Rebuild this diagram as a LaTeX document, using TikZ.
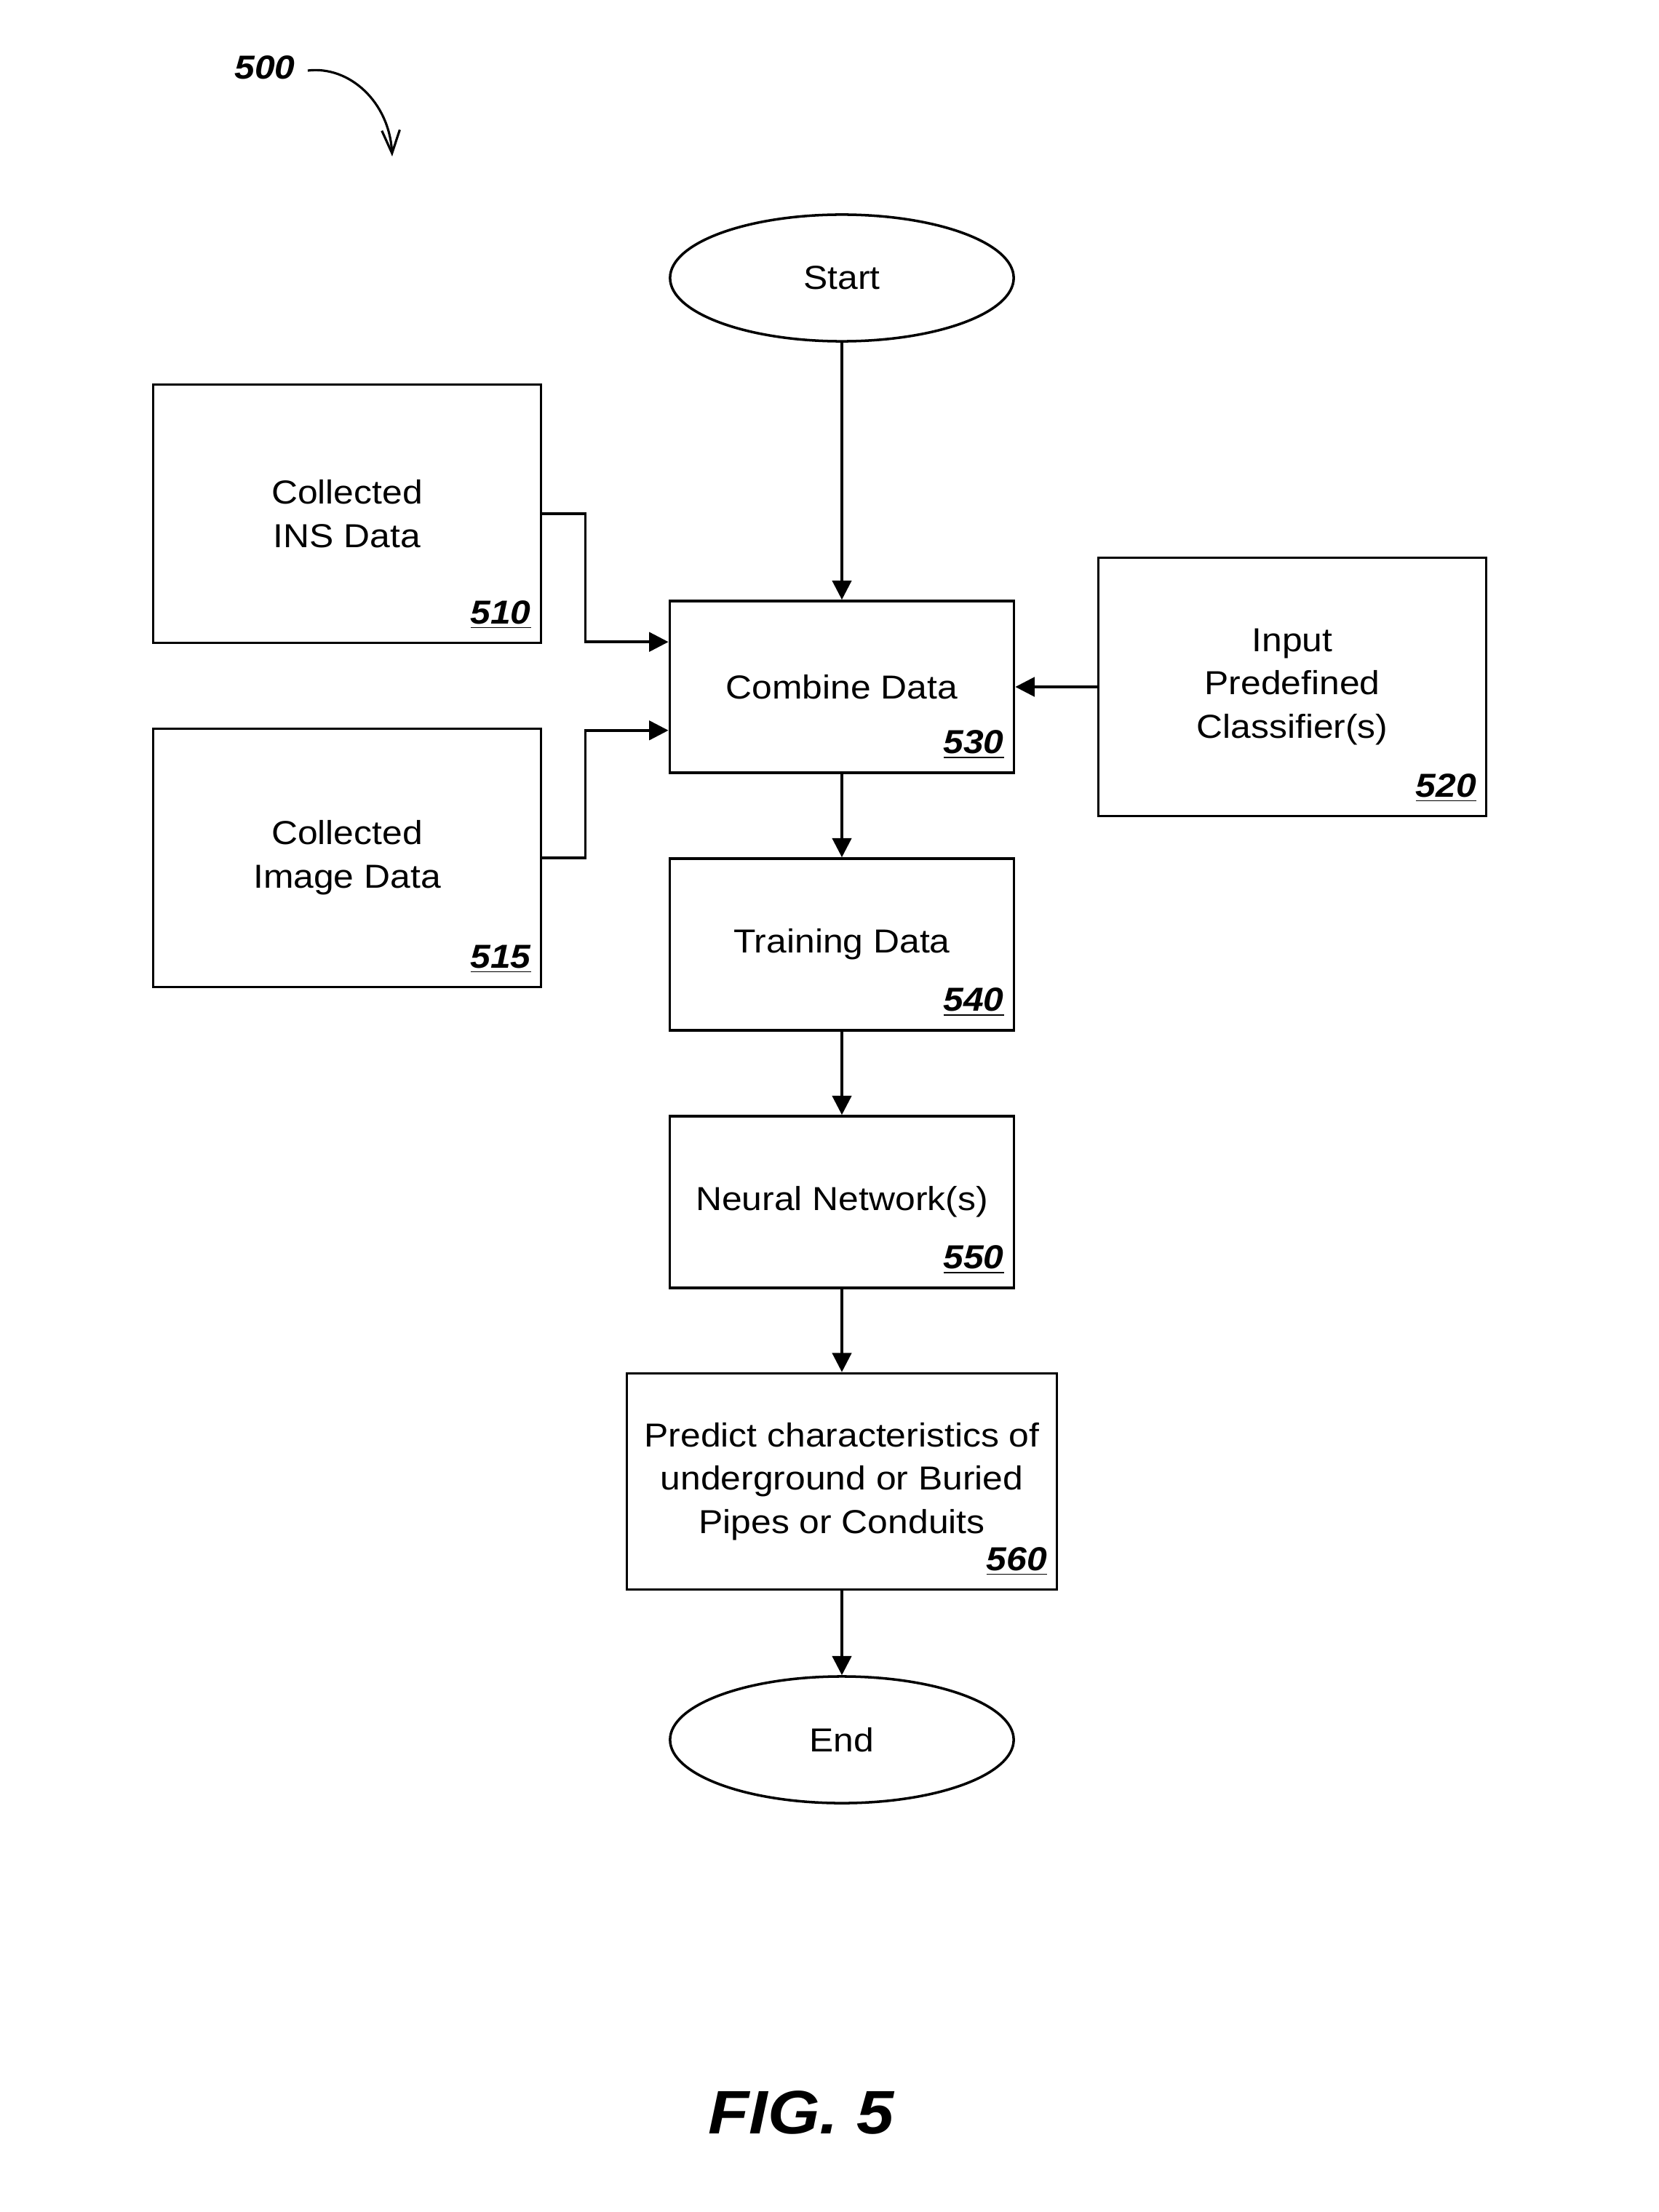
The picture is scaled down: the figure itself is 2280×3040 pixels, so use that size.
\documentclass[tikz,border=0pt]{standalone}
\usepackage{fontspec}
\setmainfont{Liberation Sans}[FakeStretch=1.09]
\usetikzlibrary{arrows.meta,shapes.geometric}

\tikzset{
  box/.style={draw,line width=1pt,align=center,minimum width=4.73cm,minimum height=2.36cm,
    font=\fontsize{13}{17}\selectfont},
  bigbox/.style={box,minimum width=5.33cm,minimum height=3.55cm},
  term/.style={draw,ellipse,line width=1pt,minimum width=4.72cm,minimum height=1.74cm,
    font=\fontsize{13}{17}\selectfont},
  num/.style={anchor=south east,inner sep=0pt,font=\fontsize{13}{15}\selectfont\bfseries\itshape},
  arr/.style={line width=1pt,-{Triangle[length=7.5pt,width=7.5pt]}}
}
\newcommand{\refnum}[1]{\underline{#1}}

\begin{document}
\begin{tikzpicture}[x=0.01cm,y=-0.01cm]
\useasboundingbox (0,0) rectangle (2280,3040);

\node[term] (start) at (1157,382) {Start};
\node[bigbox] (b510) at (477,706) {Collected\\INS Data};
\node[bigbox] (b515) at (477,1179) {Collected\\Image Data};
\node[box] (b530) at (1157,944) {Combine Data};
\node[bigbox] (b520) at (1776,944) {Input\\Predefined\\Classifier(s)};
\node[box] (b540) at (1157,1298) {Training Data};
\node[box] (b550) at (1157,1652) {Neural Network(s)};
\node[box,minimum width=5.91cm,minimum height=2.97cm] (b560) at (1157,2036)
  {Predict characteristics of\\underground or Buried\\Pipes or Conduits};
\node[term] (end) at (1157,2391) {End};

% reference numbers
\node[num] (n510) at ([xshift=-0.15cm,yshift=0.2cm]b510.south east) {\refnum{510}};
\node[num] (n515) at ([xshift=-0.15cm,yshift=0.2cm]b515.south east) {\refnum{515}};
\node[num] (n520) at ([xshift=-0.15cm,yshift=0.2cm]b520.south east) {\refnum{520}};
\node[num] (n530) at ([xshift=-0.15cm,yshift=0.2cm]b530.south east) {\refnum{530}};
\node[num] (n540) at ([xshift=-0.15cm,yshift=0.2cm]b540.south east) {\refnum{540}};
\node[num] (n550) at ([xshift=-0.15cm,yshift=0.2cm]b550.south east) {\refnum{550}};
\node[num] (n560) at ([xshift=-0.15cm,yshift=0.2cm]b560.south east) {\refnum{560}};

\draw[arr] (start) -- (b530);
\draw[arr] (b510.east) -- ++(59,0) |- ([yshift=-0.58cm]b530.north west);
\draw[arr] (b515.east) -- ++(59,0) |- ([yshift=0.6cm]b530.south west);
\draw[arr] (b520) -- (b530);
\draw[arr] (b530) -- (b540);
\draw[arr] (b540) -- (b550);
\draw[arr] (b550) -- (b560);
\draw[arr] (b560) -- (end);

\node[font=\fontsize{13}{15}\selectfont\bfseries\itshape] (n500) at (364,93) {500};
\coordinate (p500) at (539,215);
\draw[line width=0.9pt,-{Straight Barb[length=9pt,width=7pt]}] (423,97)
  .. controls (480,90) and (535,140) .. (p500);

\node[font=\fontsize{24}{28}\selectfont\bfseries\itshape] (fig) at (1101,2903) {FIG. 5};
\end{tikzpicture}
\end{document}
